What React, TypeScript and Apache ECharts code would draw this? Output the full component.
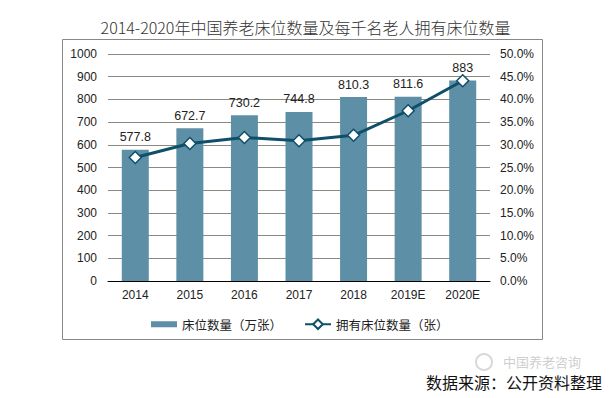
import React, { useEffect, useRef } from "react";
import * as echarts from "echarts";

const categories = ["2014", "2015", "2016", "2017", "2018", "2019E", "2020E"];
const bedCounts = [577.8, 672.7, 730.2, 744.8, 810.3, 811.6, 883];
const bedsPerThousand = [27.2, 30.3, 31.6, 30.9, 32.1, 37.5, 44.1];
const leftTicks = { min: 0, max: 1000, interval: 100 };
const rightTicks = { min: 0, max: 50, interval: 5 };
const seriesNames = ["床位数量（万张）", "拥有床位数量（张）"];
const titleText = "2014-2020年中国养老床位数量及每千名老人拥有床位数量";
const sourceText = "数据来源：公开资料整理";
const watermarkText = "中国养老咨询";

const CJK = "'Noto Sans CJK SC', sans-serif";
const LAT = "'Liberation Sans', Arial, sans-serif";

export default function App() {
  const ref = useRef<HTMLDivElement>(null);
  useEffect(() => {
    if (!ref.current) return;
    const chart = echarts.init(ref.current, null, { renderer: "svg" });
    chart.setOption({
      animation: false,
      backgroundColor: "#ffffff",
      title: {
        text: titleText,
        left: "center",
        top: 14,
        textStyle: { fontFamily: CJK, fontSize: 16, fontWeight: 300, color: "#333" },
      },
      grid: { left: 108, right: 121, top: 54, bottom: 117, containLabel: false },
      legend: {
        left: 146,
        top: 313,
        itemWidth: 26,
        itemHeight: 12,
        itemGap: 22,
        textStyle: { fontFamily: CJK, fontSize: 12.5, color: "#222" },
        data: [
          { name: seriesNames[0], icon: "path://M0,0H26V6H0Z" },
          { name: seriesNames[1] },
        ],
      },
      xAxis: {
        type: "category",
        data: categories,
        axisLine: { lineStyle: { color: "#000", width: 1 } },
        axisTick: { show: false },
        axisLabel: { fontFamily: LAT, fontSize: 12, color: "#222", margin: 8 },
      },
      yAxis: [
        {
          type: "value",
          ...leftTicks,
          axisLine: { show: false },
          axisTick: { show: false },
          splitLine: { lineStyle: { color: "#8a8a80", width: 1 } },
          axisLabel: {
            fontFamily: LAT,
            fontSize: 12,
            color: "#222",
            margin: 11,
            formatter: (v: number) => String(v),
          },
        },
        {
          type: "value",
          ...rightTicks,
          axisLine: { show: false },
          axisTick: { show: false },
          splitLine: { show: false },
          axisLabel: {
            fontFamily: LAT,
            fontSize: 12,
            color: "#222",
            margin: 10,
            formatter: (v: number) => `${v.toFixed(1)}%`,
          },
        },
      ],
      series: [
        {
          name: seriesNames[0],
          type: "bar",
          data: bedCounts,
          barWidth: 27,
          itemStyle: { color: "#5d8fa6" },
          label: {
            show: true,
            position: "top",
            distance: 6,
            fontFamily: LAT,
            fontSize: 12.5,
            color: "#222",
          },
        },
        {
          name: seriesNames[1],
          type: "line",
          yAxisIndex: 1,
          data: bedsPerThousand,
          symbol: "diamond",
          symbolSize: 12,
          lineStyle: { color: "#0f4f69", width: 3 },
          itemStyle: { color: "#ffffff", borderColor: "#0f4f69", borderWidth: 1.5 },
        },
      ],
      graphic: [
        {
          type: "rect",
          shape: { x: 62.5, y: 39.5, width: 480, height: 300 },
          style: { fill: "none", stroke: "#888", lineWidth: 1 },
          silent: true,
        },
        {
          type: "circle",
          shape: { cx: 484, cy: 362, r: 8 },
          style: { fill: "none", stroke: "#d8d8d8", lineWidth: 2 },
          silent: true,
        },
        {
          type: "text",
          x: 503,
          y: 361,
          style: {
            text: watermarkText,
            fontFamily: CJK,
            fontSize: 13,
            fill: "#cfcfcf",
            textVerticalAlign: "middle",
          },
          silent: true,
        },
        {
          type: "text",
          x: 426,
          y: 382,
          style: {
            text: sourceText,
            fontFamily: CJK,
            fontSize: 16,
            fill: "#111",
            textVerticalAlign: "middle",
          },
          silent: true,
        },
      ],
    });
    return () => chart.dispose();
  }, []);
  return (
    <div
      ref={ref}
      style={{ position: "fixed", left: 0, top: 0, width: 611, height: 398, background: "#fff" }}
    />
  );
}
